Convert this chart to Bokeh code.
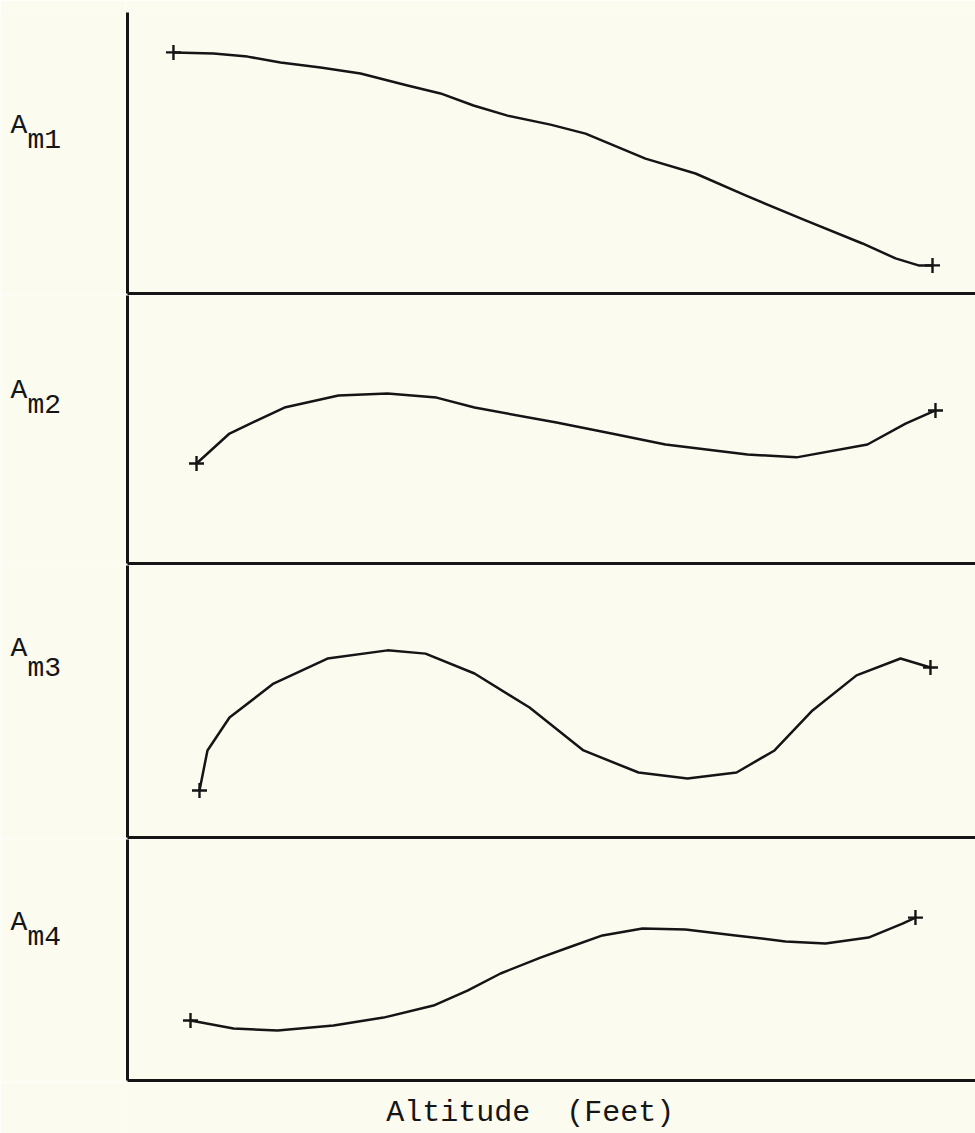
from bokeh.plotting import figure
from bokeh.layouts import column, row
from bokeh.models import Range1d, FixedTicker
from bokeh.core.properties import value
from bokeh.embed import file_html
from bokeh.resources import INLINE

# ---- data (altitude on an arbitrary 0-100 scale, amplitude as fraction of panel height) ----
alt_1 = [5.42, 10.14, 14.15, 18.04, 22.76, 27.48, 33.02, 36.91, 40.80, 44.81, 49.88,
         54.01, 61.08, 66.98, 72.88, 79.95, 86.67, 90.57, 93.28, 94.93]
amp_1 = [0.858, 0.854, 0.843, 0.822, 0.804, 0.783, 0.740, 0.712, 0.669, 0.633, 0.601,
         0.569, 0.480, 0.427, 0.349, 0.260, 0.178, 0.125, 0.100, 0.100]

alt_2 = [8.14, 12.03, 18.51, 24.88, 30.66, 36.44, 40.92, 50.59, 57.08, 63.44, 73.11,
         78.89, 87.26, 91.75, 95.28]
amp_2 = [0.373, 0.485, 0.582, 0.627, 0.634, 0.619, 0.582, 0.526, 0.485, 0.444, 0.407,
         0.396, 0.444, 0.522, 0.571]

alt_3 = [8.49, 9.43, 12.03, 17.22, 23.58, 30.66, 35.14, 40.92, 47.41, 53.77, 60.26,
         66.04, 71.82, 76.30, 80.78, 85.97, 91.16, 94.69]
amp_3 = [0.173, 0.320, 0.441, 0.566, 0.658, 0.688, 0.676, 0.603, 0.478, 0.320, 0.239,
         0.217, 0.239, 0.320, 0.467, 0.596, 0.658, 0.625]

alt_4 = [7.43, 12.50, 17.69, 24.29, 30.19, 36.08, 40.09, 43.99, 48.70, 52.00, 56.01,
         60.73, 65.80, 71.70, 77.59, 82.31, 87.38, 91.39, 92.92]
amp_4 = [0.249, 0.216, 0.207, 0.228, 0.261, 0.311, 0.373, 0.444, 0.510, 0.552, 0.602,
         0.631, 0.627, 0.602, 0.577, 0.568, 0.593, 0.651, 0.676]

label_main = "A"
label_subs = ["m1", "m2", "m3", "m4"]
x_title = "Altitude \u00a0(Feet)"

# ---- styling ----
BG = "#fbfbf0"
INK = "#151515"
FONT = "Liberation Mono"

series = [(alt_1, amp_1), (alt_2, amp_2), (alt_3, amp_3), (alt_4, amp_4)]
# (frame height, top border, bottom border, baseline of "A", baseline of subscript)
layout_spec = [
    (281, 12, 2, 0.598, 0.544),
    (268, 0, 2, 0.646, 0.590),
    (272, 0, 2, 0.695, 0.621),
    (241, 0, 2, 0.656, 0.593),
]


def clean(f):
    f.background_fill_color = BG
    f.border_fill_color = BG
    f.outline_line_color = None
    f.grid.visible = False


x_range = Range1d(0, 100)
rows = []
for i, ((xs, ys), (fh, bt, bb, ya, ysub)) in enumerate(zip(series, layout_spec)):
    y_range = Range1d(0, 1)
    h = fh + bt + bb

    lab = figure(width=125, height=h, x_range=Range1d(0, 125), y_range=y_range,
                 output_backend="svg", toolbar_location=None,
                 min_border_left=0, min_border_right=0,
                 min_border_top=bt, min_border_bottom=bb)
    clean(lab)
    lab.axis.visible = False
    lab.text(x=[10], y=[ya], text=[label_main], text_font=value(FONT),
             text_font_size="28px", text_color=INK, text_baseline="alphabetic")
    lab.text(x=[27], y=[ysub], text=[label_subs[i]], text_font=value(FONT),
             text_font_size="28px", text_color=INK, text_baseline="alphabetic")

    f = figure(width=850, height=h, x_range=x_range, y_range=y_range,
               output_backend="svg", toolbar_location=None,
               min_border_left=2, min_border_right=0,
               min_border_top=bt, min_border_bottom=bb)
    clean(f)
    for ax in (f.xaxis[0], f.yaxis[0]):
        ax.ticker = FixedTicker(ticks=[])
        ax.major_tick_in = 0
        ax.major_tick_out = 0
        ax.minor_tick_in = 0
        ax.minor_tick_out = 0
        ax.major_label_text_font_size = "0px"
        ax.major_label_standoff = 0
        ax.axis_line_color = INK
        ax.axis_line_width = 3
    f.line(xs, ys, line_color=INK, line_width=2.5, line_join="round", line_cap="round")
    f.scatter([xs[0], xs[-1]], [ys[0], ys[-1]], marker="cross", size=15,
              line_color=INK, line_width=2.4)
    rows.append(row(lab, f, spacing=0))

# bottom strip with the altitude caption
cap = figure(width=975, height=51, x_range=x_range, y_range=Range1d(0, 1),
             output_backend="svg", toolbar_location=None,
             min_border_left=127, min_border_right=0,
             min_border_top=0, min_border_bottom=0)
clean(cap)
cap.axis.visible = False
cap.text(x=[47.5], y=[0.40], text=[x_title], text_font=value(FONT),
         text_font_size="30px", text_color=INK, text_align="center",
         text_baseline="alphabetic")

p = column(*rows, cap, spacing=0)
open("out.html", "w").write(file_html(p, INLINE))
